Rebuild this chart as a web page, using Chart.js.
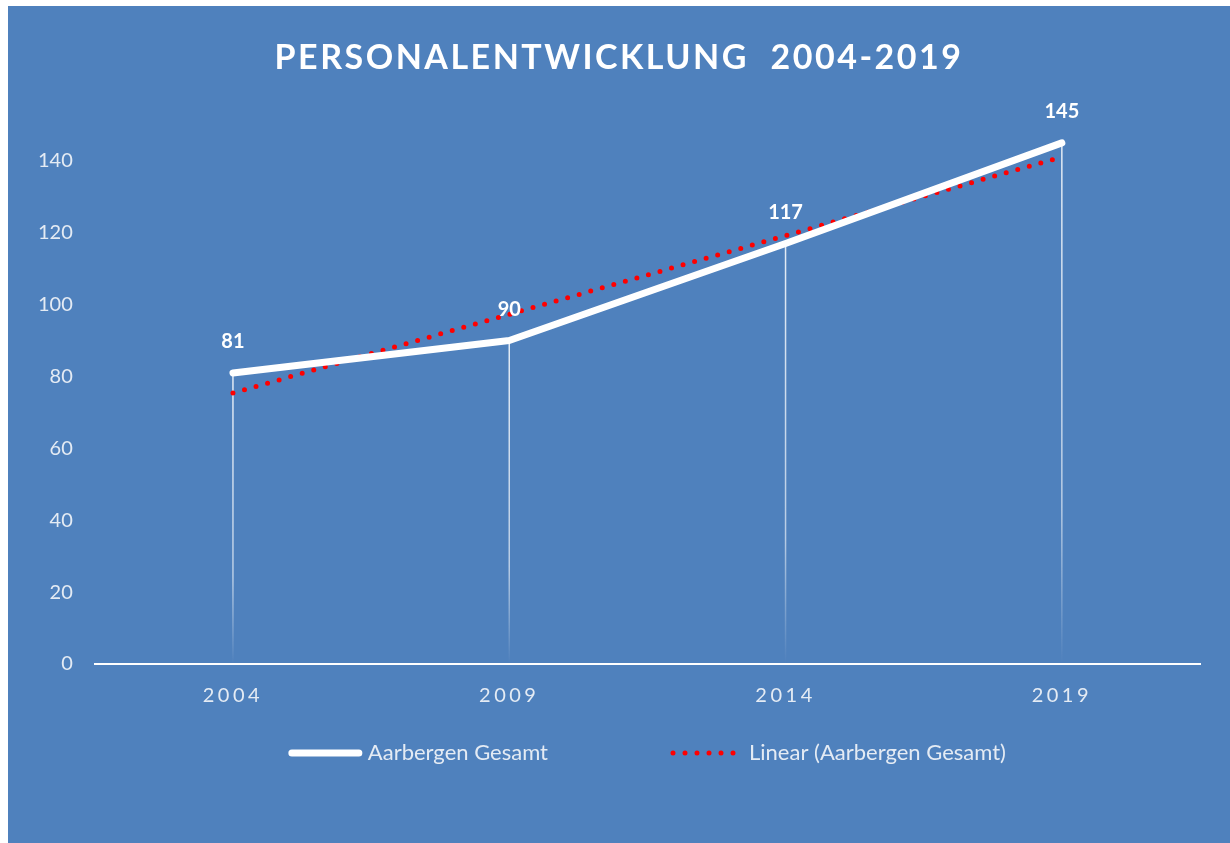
<!DOCTYPE html>
<html lang="de">
<head>
<meta charset="utf-8">
<title>Personalentwicklung 2004-2019</title>
<script src="https://cdn.jsdelivr.net/npm/chart.js@4.4.0/dist/chart.umd.min.js"></script>
<style>
  html, body { margin: 0; padding: 0; background: #ffffff; }
  .marco { position: absolute; left: 8px; top: 6px; width: 1222px; height: 837px; background: #4F81BD; }
  canvas { display: block; }
</style>
</head>
<body>
<div class="marco"><canvas id="grafica" width="1222" height="837"></canvas></div>
<script>
// Daten aus dem Bild
const jahre = ['2004', '2009', '2014', '2019'];
const gesamt = [81, 90, 117, 145];
const trend = [75.4, 97.3, 119.2, 141.1];
const yWerte = [0, 20, 40, 60, 80, 100, 120, 140];
const titel = 'PERSONALENTWICKLUNG  2004-2019';

const schrift = 'Lato, "Open Sans", sans-serif';
const hell = '#e4ebf4';

// Titel mit Zeichenabstand
const titelPlugin = {
  id: 'titel',
  beforeDraw(chart) {
    // Jahreszahlen etwas gesperrt wie im Original
    const sx = chart.scales.x;
    if (!sx._gesperrt) {
      const orig = sx.drawLabels.bind(sx);
      sx.drawLabels = (area) => {
        chart.ctx.save();
        chart.ctx.letterSpacing = '3.5px';
        orig(area);
        chart.ctx.restore();
      };
      sx._gesperrt = true;
    }
  },
  afterDraw(chart) {
    const c = chart.ctx;
    c.save();
    c.font = 'bold 34px ' + schrift;
    c.letterSpacing = '2.5px';
    c.fillStyle = '#ffffff';
    c.textAlign = 'center';
    c.textBaseline = 'middle';
    c.fillText(titel, chart.width / 2, 52);
    c.restore();
  }
};

// senkrechte Linien von den Punkten zur Achse
const lotPlugin = {
  id: 'lot',
  beforeDatasetsDraw(chart) {
    const c = chart.ctx;
    const y0 = chart.scales.y.getPixelForValue(0);
    chart.getDatasetMeta(0).data.forEach(pt => {
      const g = c.createLinearGradient(0, pt.y, 0, y0);
      g.addColorStop(0, 'rgba(255,255,255,0.85)');
      g.addColorStop(0.7, 'rgba(255,255,255,0.6)');
      g.addColorStop(1, 'rgba(255,255,255,0)');
      c.save();
      c.strokeStyle = g;
      c.lineWidth = 1.5;
      c.beginPath();
      c.moveTo(pt.x, pt.y);
      c.lineTo(pt.x, y0);
      c.stroke();
      c.restore();
    });
  }
};

// Datenbeschriftungen
const werte = {
  id: 'werte',
  afterDatasetsDraw(chart) {
    const c = chart.ctx;
    c.save();
    c.font = 'bold 20px ' + schrift;
    c.fillStyle = '#ffffff';
    c.textAlign = 'center';
    c.textBaseline = 'middle';
    chart.getDatasetMeta(0).data.forEach((pt, i) => {
      c.fillText(gesamt[i], pt.x, pt.y - 31);
    });
    c.restore();
  }
};

// Legende unten, mittig unter der Zeichenfläche
const legende = {
  id: 'legende',
  afterDraw(chart) {
    const c = chart.ctx;
    const probe = 73, abstand = 6, luecke = 122;
    const y = 747;
    c.save();
    c.font = '22px ' + schrift;
    const items = chart.data.datasets.map(ds => ({ ds, w: probe + abstand + c.measureText(ds.label).width }));
    const gesamtBreite = items.reduce((s, it) => s + it.w, 0) + luecke * (items.length - 1);
    const mitte = (chart.chartArea.left + chart.chartArea.right) / 2;
    let x = mitte - gesamtBreite / 2;
    items.forEach(it => {
      const ds = it.ds;
      c.strokeStyle = ds.borderColor;
      c.lineWidth = ds.borderWidth;
      c.lineCap = 'round';
      c.setLineDash(ds.borderDash || []);
      c.beginPath();
      c.moveTo(x + 3, y);
      c.lineTo(x + probe - 3, y);
      c.stroke();
      c.setLineDash([]);
      c.fillStyle = hell;
      c.textAlign = 'left';
      c.textBaseline = 'middle';
      c.fillText(ds.label, x + probe + abstand, y);
      x += it.w + luecke;
    });
    c.restore();
  }
};

new Chart(document.getElementById('grafica'), {
  type: 'line',
  data: {
    labels: jahre,
    datasets: [
      {
        label: 'Aarbergen Gesamt',
        data: gesamt,
        borderColor: '#ffffff',
        borderWidth: 7,
        borderCapStyle: 'round',
        borderJoinStyle: 'round',
        pointRadius: 0,
        tension: 0
      },
      {
        label: 'Linear (Aarbergen Gesamt)',
        data: trend,
        borderColor: '#ff0000',
        borderWidth: 5,
        borderDash: [0, 12],
        borderCapStyle: 'round',
        pointRadius: 0,
        tension: 0
      }
    ]
  },
  options: {
    responsive: false,
    animation: false,
    layout: { padding: { top: 83, left: 16, right: 30, bottom: 123 } },
    plugins: {
      legend: { display: false },
      title: { display: false },
      tooltip: { enabled: false }
    },
    scales: {
      x: {
        offset: true,
        grid: { display: false },
        border: { display: true, color: '#ffffff', width: 2 },
        ticks: { color: hell, font: { family: schrift, size: 20 }, padding: 12 }
      },
      y: {
        min: 0,
        max: 160,
        grid: { display: false },
        border: { display: false },
        afterBuildTicks(scale) {
          scale.ticks = yWerte.map(v => ({ value: v }));
        },
        ticks: { color: hell, font: { family: schrift, size: 20 }, padding: 14 }
      }
    }
  },
  plugins: [titelPlugin, lotPlugin, werte, legende]
});
</script>
</body>
</html>
